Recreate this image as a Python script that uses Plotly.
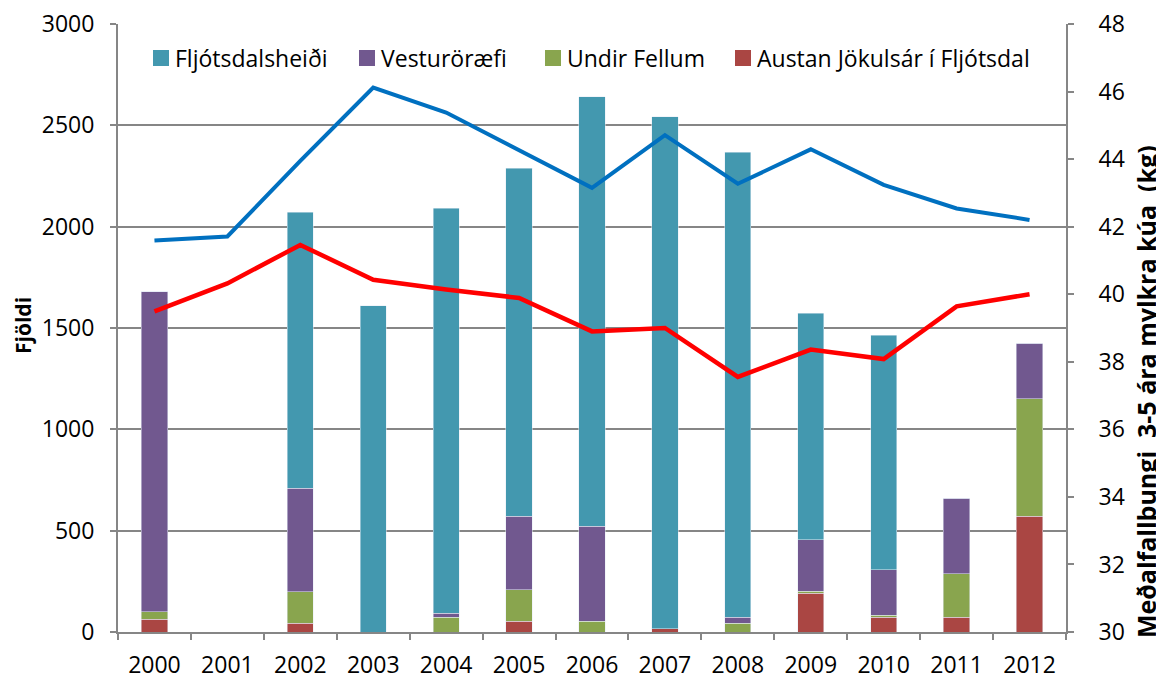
import plotly.graph_objects as go

years = [str(y) for y in range(2000, 2013)]
austan = [62, 0, 42, 0, 0, 52, 0, 15, 0, 190, 72, 72, 572]
undir = [39, 0, 157, 0, 72, 157, 52, 0, 42, 10, 10, 216, 578]
vestur = [1579, 0, 510, 0, 20, 363, 471, 0, 30, 255, 225, 372, 274]
fljot = [0, 0, 1363, 1611, 2000, 1716, 2118, 2527, 2294, 1118, 1157, 0, 0]
line_blue = [41.59, 41.71, 43.95, 46.12, 45.38, 44.26, 43.15, 44.71, 43.27, 44.29, 43.24, 42.54, 42.2]
line_red = [39.49, 40.32, 41.46, 40.43, 40.14, 39.89, 38.9, 39.0, 37.55, 38.36, 38.08, 39.64, 40.0]

series_names = ["Fljótsdalsheiði", "Vesturöræfi", "Undir Fellum", "Austan Jökulsár í Fljótsdal"]
series_colors = ["#4398AF", "#71588F", "#89A54E", "#AA4643"]

FONT = "Open Sans"
AX = "#868686"
OFF = 8  # page body margin
W, H = 1164 - OFF, 679 - OFF
L, T = 118 - OFF, 24 - OFF
R = W - (1066 - OFF)
B = H - (632 - OFF)
PW, PH = W - L - R, H - T - B


def px(xw):
    return (xw - OFF - L) / PW


def py(yw):
    return (H - B - (yw - OFF)) / PH


fig = go.Figure()
stack = [(austan, 3), (undir, 2), (vestur, 1), (fljot, 0)]
for vals, i in stack:
    fig.add_trace(go.Bar(x=years, y=vals, name=series_names[i], marker_color=series_colors[i],
                         showlegend=False))
fig.add_trace(go.Scatter(x=years, y=line_blue, yaxis="y2", mode="lines", showlegend=False,
                         line=dict(color="#0070C0", width=4)))
fig.add_trace(go.Scatter(x=years, y=line_red, yaxis="y2", mode="lines", showlegend=False,
                         line=dict(color="#FF0000", width=4.5)))

# legend (drawn as shapes + text)
leg_sq_x = [153, 359, 545, 735]
leg_y = 58
shapes, annotations = [], []
for i, name in enumerate(series_names):
    x0 = leg_sq_x[i]
    shapes.append(dict(type="rect", xref="paper", yref="paper", x0=px(x0), x1=px(x0 + 16),
                       y0=py(leg_y - 8), y1=py(leg_y + 8), fillcolor=series_colors[i], line=dict(width=0)))
    annotations.append(dict(text=name, xref="paper", yref="paper", x=px(x0 + 20), y=py(leg_y),
                            xanchor="left", yanchor="middle", showarrow=False, font=dict(size=23)))

annotations += [
    dict(text="<b>Fjöldi</b>", xref="paper", yref="paper", x=px(23), y=py(326),
         textangle=-90, showarrow=False, font=dict(size=21), xanchor="center", yanchor="middle"),
    dict(text="<b>Meðalfallþungi  3-5 ára mylkra kúa  (kg)</b>", xref="paper", yref="paper",
         x=px(1146), y=py(392), textangle=-90, showarrow=False,
         font=dict(size=25), xanchor="center", yanchor="middle"),
]

fig.update_layout(
    width=W, height=H,
    margin=dict(l=L, r=R, t=T, b=B),
    barmode="stack", bargap=0.64,
    plot_bgcolor="white", paper_bgcolor="white",
    font=dict(family=FONT, size=23, color="#000000"),
    showlegend=False,
    xaxis=dict(type="category", showline=True, linecolor=AX, linewidth=2, automargin=False,
               ticks="outside", tickson="boundaries", ticklen=6, tickcolor=AX, tickwidth=2,
               showgrid=False, tickfont=dict(size=23), ticklabelstandoff=11),
    yaxis=dict(range=[0, 3000], dtick=500, showline=True, linecolor=AX, linewidth=2, automargin=False,
               ticks="outside", ticklen=6, tickcolor=AX, tickwidth=2, ticklabeloverflow="allow",
               showgrid=True, gridcolor=AX, gridwidth=2, zeroline=False,
               tickfont=dict(size=23), ticklabelstandoff=11),
    yaxis2=dict(range=[30, 48], dtick=2, overlaying="y", side="right", showline=True, automargin=False,
                linecolor=AX, linewidth=2, ticks="outside", ticklen=6, tickcolor=AX, tickwidth=2,
                ticklabeloverflow="allow", showgrid=False, zeroline=False,
                tickfont=dict(size=23), ticklabelstandoff=20),
    shapes=shapes,
    annotations=annotations,
)

fig.write_html("out.html")
